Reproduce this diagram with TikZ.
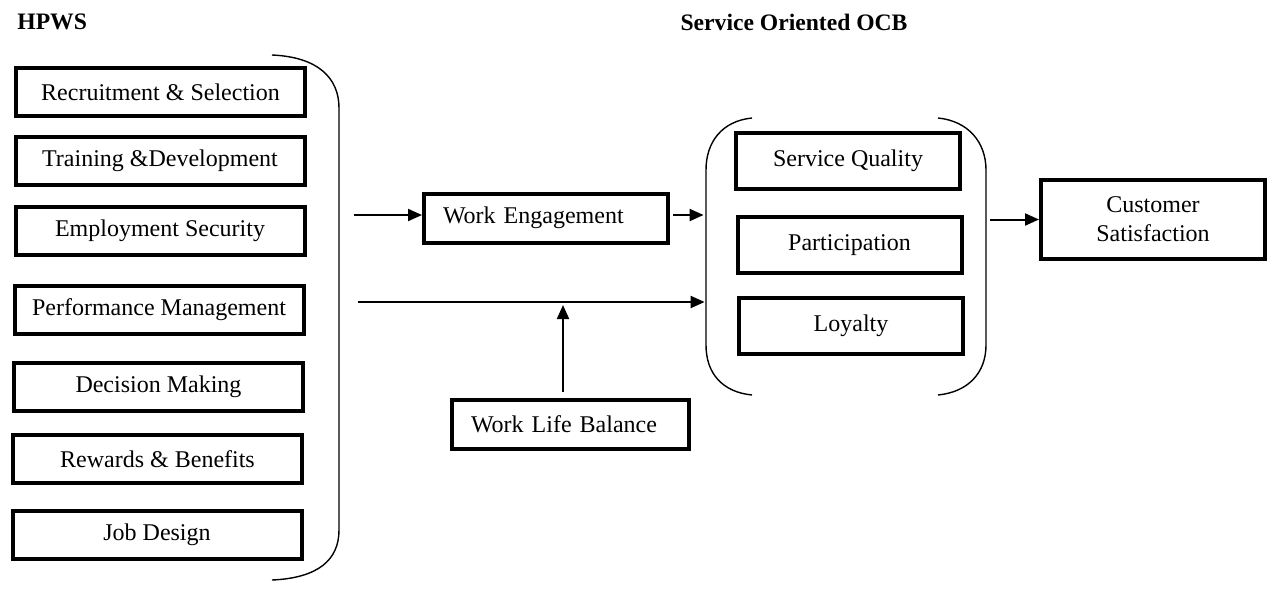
\documentclass[tikz,border=0pt]{standalone}
\usepackage{fontspec}
\setmainfont{Liberation Serif}
\usepackage{tikz}
\usetikzlibrary{arrows.meta,positioning,calc,fit}
\tikzset{
  box/.style={draw, line width=2pt, inner sep=0pt, align=center,
    font=\fontsize{12}{14.5}\selectfont},
  factor/.style={box, minimum width=144.5pt, minimum height=24pt},
  med/.style={box, align=left, inner xsep=9.5pt, text width=#1, minimum height=24.5pt},
  med/.default={103pt},
  ocbbox/.style={box, minimum width=112pt, minimum height=28pt},
  outbox/.style={box, minimum width=112pt, minimum height=39.5pt},
  head/.style={font=\fontsize{11.8}{14}\selectfont\bfseries, inner sep=0pt},
  arr/.style={line width=1pt, -{Triangle[length=7pt,width=6pt]}},
  brace/.style={line width=0.7pt},
}
\begin{document}
\begin{tikzpicture}[x=0.5pt,y=-0.5pt]
\useasboundingbox (0,0) rectangle (1274,590);
% --- heads
\node[head, anchor=west] (hh) at (17,22) {HPWS};
\node[head] (ho) at (794,22) {Service Oriented OCB};
% --- HPWS practices
\node[factor] (f1) at (160.5,92) {Recruitment \& Selection};
\node[factor] (f2) at (160,161) {Training \&Development};
\node[factor] (f3) at (160,230.5) {Employment Security};
\node[factor] (f4) at (159,310) {Performance Management};
\node[factor] (f5) at (158.5,386.5) {Decision Making};
\node[factor] (f6) at (157.5,459) {Rewards \& Benefits};
\node[factor] (f7) at (157,535) {Job Design};
\draw[brace] (272,55) .. controls (318,57) and (339,78) .. (339,108) -- (339,530)
  .. controls (339,560) and (318,578) .. (272,580);
% --- mediator and moderator
\node[med] (we) at (546,218) {Work Engagement};
\node[med=99.5pt] (wlb) at (570.5,424.5) {Work Life Balance};
% --- service oriented OCB
\node[ocbbox] (sq) at (848,161) {Service Quality};
\node[ocbbox] (pa) at (849.5,245) {Participation};
\node[ocbbox] (lo) at (851,325.5) {Loyalty};
\node[fit={(706,118) (986,395)}, inner sep=0pt] (ocb) {};
\draw[brace] (752,118) .. controls (722,121) and (706,142) .. (706,170) -- (706,345)
  .. controls (706,373) and (722,392) .. (752,395);
\draw[brace] (938,118) .. controls (968,121) and (986,142) .. (986,170) -- (986,345)
  .. controls (986,373) and (968,392) .. (938,395);
% --- outcome
\node[outbox] (cs) at (1153,219.5) {Customer\\Satisfaction};
% --- links
\coordinate (in1) at (354,215);
\coordinate (in2) at (358,302);
\coordinate (mid) at (563,302);
\draw[arr] (in1) -- (in1 -| we.west);
\draw[arr, shorten >=1pt] (we.east |- in1) ++(3,0) -- (in1 -| ocb.west);
\draw[arr, shorten >=0.5pt] (in2) -- (in2 -| ocb.west);
\draw[arr, shorten <=3pt, shorten >=1.5pt] (wlb.north -| mid) -- (mid);
\draw[arr, shorten <=2pt] (cs.west -| ocb.east) -- (cs.west);
\end{tikzpicture}
\end{document}
